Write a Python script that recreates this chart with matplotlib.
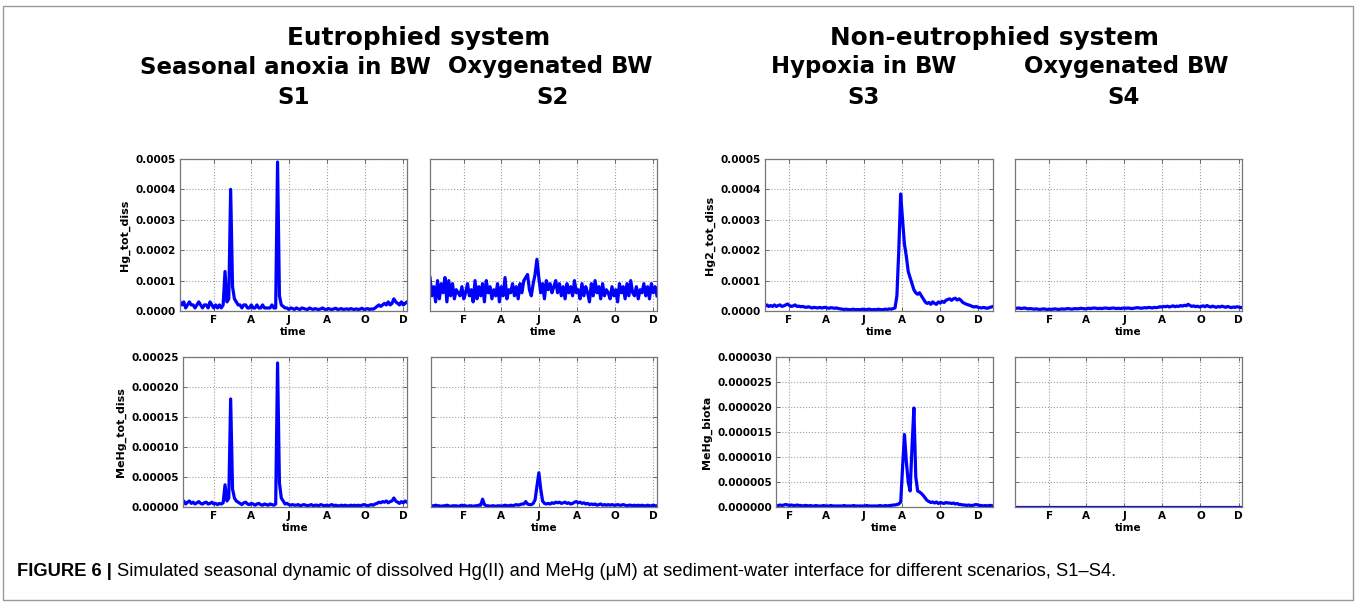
import numpy as np
import matplotlib
matplotlib.use("Agg")
import matplotlib.pyplot as plt
from matplotlib.ticker import FixedLocator, FormatStrFormatter
from matplotlib.patches import Rectangle

# ---------------- data ----------------
month_labels = ["F", "A", "J", "A", "O", "D"]
month_days = [55, 114, 175, 236, 297, 358]   # 1st of Feb, Apr, Jun, Aug, Oct, Dec

# S1 (eutrophied, seasonal anoxia) values in 1e-5 uM
s1_hg = [3,2,3,1,2,3,2,2,1,2,3,2,1,2,2,1,3,2,1,2,1,2,1,2,
         13,3,4,40,8,4,3,2,
         2,1,2,2,1,1,2,1,1,2,1,1,2,1,1,1,1,2,1,1,
         49,5,2,1.5,
         1,1,0.5,1,0.8,0.5,1,0.7,0.5,1,0.8,0.6,0.5,1,0.7,0.5,0.8,0.6,0.5,0.7,1,0.6,0.5,0.8,
         0.6,0.5,0.7,0.9,0.5,0.6,0.8,0.5,0.6,0.7,0.5,0.8,0.6,0.5,0.7,0.5,0.6,0.9,0.5,0.6,0.8,0.5,0.7,0.6,
         1,1.5,2,1.5,2,2.5,2,3,2,2.5,4,3,2.5,2,3,2,2.5,3]
s1_mehg = [1,0.8,1,0.5,0.8,1,0.6,0.8,0.5,0.7,0.9,0.6,0.5,0.7,0.8,0.5,0.6,0.8,0.5,0.6,0.4,0.6,0.5,0.7,
           3.7,1,1.5,18,3,1.5,1,0.8,
           0.6,0.4,0.7,0.8,0.5,0.4,0.6,0.5,0.3,0.5,0.6,0.4,0.3,0.5,0.4,0.3,0.5,0.4,0.3,0.5,
           24,4,1.5,1,
           0.5,0.6,0.4,0.3,0.4,0.3,0.3,0.4,0.2,0.3,0.4,0.3,0.2,0.3,0.4,0.2,0.3,0.3,0.2,0.4,0.3,0.2,0.3,0.2,
           0.3,0.4,0.2,0.3,0.2,0.2,0.3,0.2,0.3,0.2,0.2,0.3,0.2,0.3,0.2,0.3,0.2,0.3,0.4,0.3,0.2,0.3,0.4,0.3,
           0.5,0.6,0.8,0.7,0.9,0.8,1,0.7,0.9,1,1.5,1,0.8,0.6,0.9,0.7,1,0.8]

# S2 (eutrophied, oxygenated) values in 1e-5 uM
s2_hg = [11,5,8,3,10,4,9,6,11,3,10,5,9,4,7,6,5,8,4,6,9,5,7,3,10,4,8,5,9,3,10,6,8,4,7,5,9,3,8,5,11,4,7,6,9,5,8,4,
         9,6,10,11,12,7,5,9,12,17,11,6,9,
         4,10,7,9,6,8,10,6,9,5,8,4,9,6,8,5,10,6,7,4,9,5,8,6,3,9,5,10,6,8,4,9,5,7,6,4,8,5,7,3,
         9,6,8,4,9,5,10,6,5,8,4,7,6,9,5,8,4,9,6,8,5]
s2_mehg = [0.3,0.2,0.2,0.3,0.2,0.2,0.1,0.2,0.2,0.3,0.2,0.1,0.2,0.2,0.2,0.1,0.2,0.3,0.2,0.2,0.1,0.2,0.2,0.1,0.2,0.2,0.3,0.3,
           1.3,0.4,
           0.2,0.2,0.1,0.2,0.2,0.1,0.2,0.2,0.1,0.2,0.3,0.2,0.2,0.3,0.2,0.3,0.4,0.3,0.4,0.5,0.5,
           0.9,0.5,0.4,0.4,0.6,1.2,3.5,5.7,3,1,0.6,
           0.5,0.6,0.5,0.7,0.6,0.8,0.7,0.8,0.6,0.7,0.8,0.6,0.7,0.5,0.6,0.8,0.9,0.7,0.8,0.6,
           0.7,0.5,0.6,0.4,0.5,0.4,0.5,0.3,0.4,0.5,0.3,0.4,0.3,0.4,0.3,0.4,0.3,0.3,0.4,0.3,
           0.3,0.4,0.3,0.2,0.3,0.3,0.2,0.3,0.2,0.3,0.2,0.3,0.2,0.2,0.3,0.2,0.2,0.3,0.2,0.2]

# S3 (non-eutrophied, hypoxia): Hg2 in 1e-5 uM, MeHg_biota in 1e-6 uM
s3_hg = [1.5,2,1.5,1.8,1.5,2,1.5,1.8,2,1.5,1.7,2,2.3,1.8,1.5,1.7,2,1.5,1.6,1.4,1.5,
         1.3,1.2,1.4,1.2,1,1.2,1.1,1,1.2,1,1.1,1.2,1,0.9,1.1,1,0.9,1,0.8,0.7,
         0.6,0.5,0.6,0.5,0.4,0.5,0.6,0.4,0.5,0.4,0.5,0.6,0.4,0.5,0.6,0.5,0.4,0.5,0.4,0.6,
         0.5,0.4,0.5,0.6,0.5,0.7,0.6,0.8,1,
         5,20,38.5,30,22,18,13,11,9,7,6,5.5,6,5,4,3,2.5,
         2.8,2.2,3,2.5,2.2,3,2.6,3.2,2.8,3.5,3.8,4,3.5,4,4.2,3.6,4,3.5,2.8,2.5,
         2.2,2,1.8,1.5,1.3,1.5,1.2,1.1,1,1.2,1,0.9,1.1,1.3,1.5]
s3_mehg = [0.4,0.4,0.3,0.4,0.5,0.4,0.3,0.3,0.4,0.3,
           0.4,0.5,0.4,0.3,0.4,0.3,0.3,0.4,0.3,0.3,
           0.2,0.3,0.3,0.2,0.3,0.2,0.2,0.3,0.2,0.2,
           0.2,0.3,0.2,0.2,0.2,0.3,0.2,0.2,0.2,0.2,
           0.2,0.2,0.3,0.2,0.2,0.2,0.2,0.3,0.2,0.2,
           0.2,0.2,0.2,0.2,0.3,0.2,0.2,0.2,0.2,0.2,
           0.2,0.3,0.2,0.2,0.3,0.2,0.3,0.3,0.4,0.4,
           0.5,0.6,
           1,8,14.5,9,5,3.2,12,19.8,6,3.2,3,2.7,2.3,1.8,1.3,1.1,
           0.9,1,0.8,1,0.7,0.9,0.8,0.7,0.9,0.8,0.8,0.7,0.8,0.6,0.7,0.5,0.5,0.4,0.4,0.3,
           0.4,0.3,0.3,0.4,0.5,0.4,0.3,0.3,0.2,0.3,0.2,0.3,0.3,0.2]

# S4 (non-eutrophied, oxygenated) values in 1e-5 uM
s4_hg = [1,0.9,1,0.8,0.9,1,0.8,0.7,0.8,0.7,0.6,0.7,0.6,0.5,0.6,0.7,0.6,0.5,0.6,0.5,
         0.6,0.7,0.6,0.5,0.6,0.7,0.6,0.7,0.8,0.7,0.6,
         0.7,0.8,0.7,0.8,0.9,0.8,0.7,0.8,0.9,0.8,0.9,1,0.9,0.8,0.9,0.8,0.9,1,0.9,0.8,
         0.9,1,0.9,0.8,0.9,0.8,0.9,1,0.9,1,0.9,0.8,0.9,1,1.1,1,0.9,1,1.1,1,1.2,1.1,1,1.2,1.1,
         1.2,1.4,1.3,1.5,1.4,1.6,1.3,1.5,1.7,1.4,1.6,1.5,1.8,1.6,1.9,1.7,2.2,1.8,1.5,1.7,
         1.4,1.6,1.3,1.5,1.7,1.4,1.8,1.5,1.3,1.6,1.4,1.2,1.5,1.3,1.6,1.4,1.2,1.5,1.3,1.1,
         1.3,1.2,1.4,1.3,1.1,1.2]
s4_mehg = [0.0] * 122

# time grids (days since 8 Dec of previous year)
t_a = np.linspace(0.5, 364.4, len(s1_hg))
t_b = np.linspace(16.5, 382.0, len(s3_hg))

titles_top = [("Eutrophied system", 419), ("Non-eutrophied system", 994)]
titles_mid = [("Seasonal anoxia in BW", 285), ("Oxygenated BW", 550),
              ("Hypoxia in BW", 864), ("Oxygenated BW", 1126)]
titles_s = [("S1", 294), ("S2", 553), ("S3", 864), ("S4", 1124)]

# ---------------- figure ----------------
W, H = 1357, 606
fig = plt.figure(figsize=(W / 100, H / 100), dpi=100)
fig.patch.set_facecolor("white")

def add_ax(l, r, t, b):
    return fig.add_axes([l / W, 1 - b / H, (r - l) / W, (b - t) / H])

panels = [
    (180, 407, 159, 311, t_a, s1_hg, 1e-5, 0.0005, 0.0001, "%.4f", "Hg_tot_diss", True, (0.5, 364.4)),
    (183, 407, 357, 507, t_a, s1_mehg, 1e-5, 0.00025, 0.00005, "%.5f", "MeHg_tot_diss", True, (5.3, 364.4)),
    (430, 657, 159, 311, t_a, s2_hg, 1e-5, 0.0005, 0.0001, "%.4f", "", False, (0.5, 364.4)),
    (431, 657, 357, 507, t_a, s2_mehg, 1e-5, 0.00025, 0.00005, "%.5f", "", False, (2.0, 364.4)),
    (765, 993, 159, 311, t_b, s3_hg, 1e-5, 0.0005, 0.0001, "%.4f", "Hg2_tot_diss", True, (16.5, 382.0)),
    (776, 993, 357, 507, t_b, s3_mehg, 1e-6, 0.00003, 0.000005, "%.6f", "MeHg_biota", True, (34.0, 382.0)),
    (1015, 1242, 159, 311, t_a, s4_hg, 1e-5, 0.0005, 0.0001, "%.4f", "", False, (0.0, 363.5)),
    (1015, 1242, 357, 507, t_a, s4_mehg, 1e-5, 0.00003, 0.000005, "%.6f", "", False, (0.0, 363.5)),
]

for (l, r, t, b, tt, vals, sc, ymax, step, fmt, ylab, showy, xl) in panels:
    ax = add_ax(l, r, t, b)
    ax.plot(tt, np.array(vals) * sc, color="#0000ff", lw=2.3, solid_joinstyle="round")
    ax.set_xlim(*xl)
    ax.set_ylim(0, ymax)
    ax.xaxis.set_major_locator(FixedLocator(month_days))
    ax.set_xticklabels(month_labels)
    ax.yaxis.set_major_locator(FixedLocator(np.arange(0, ymax + step / 2, step)))
    ax.yaxis.set_major_formatter(FormatStrFormatter(fmt))
    ax.tick_params(direction="in", top=True, right=True, length=3, width=0.6,
                   color="#555555", labelsize=7.5, pad=3)
    for lab in ax.get_xticklabels() + ax.get_yticklabels():
        lab.set_fontweight("bold")
    if not showy:
        ax.tick_params(labelleft=False)
    for sp in ax.spines.values():
        sp.set_color("#777777")
        sp.set_linewidth(0.9)
    ax.grid(True, color="#a0a0a0", linestyle=":", linewidth=0.8)
    ax.set_xlabel("time", fontsize=7.5, fontweight="bold", labelpad=1)
    if ylab:
        ax.set_ylabel(ylab, fontsize=8, fontweight="bold", labelpad=4)

for txt, x in titles_top:
    fig.text(x / W, 1 - 38 / H, txt, ha="center", va="center", fontsize=17.8, fontweight="bold")
for txt, x in titles_mid:
    fig.text(x / W, 1 - 67 / H, txt, ha="center", va="center", fontsize=16.5, fontweight="bold")
for txt, x in titles_s:
    fig.text(x / W, 1 - 98 / H, txt, ha="center", va="center", fontsize=16.5, fontweight="bold")

# caption
cap_y = 1 - 571 / H
t1 = fig.text(17 / W, cap_y, "FIGURE 6 | ", ha="left", va="center", fontsize=13.2,
              fontweight="bold", family=["Liberation Sans", "DejaVu Sans"])
fig.canvas.draw()
bb = t1.get_window_extent()
fig.text(bb.x1 / W, cap_y,
         "Simulated seasonal dynamic of dissolved Hg(II) and MeHg (\u03bcM) at sediment-water interface for different scenarios, S1\u2013S4.",
         ha="left", va="center", fontsize=13.2, family=["Liberation Sans", "DejaVu Sans"])

# outer frame
fig.patches.append(Rectangle((3 / W, 6 / H), 1 - 7 / W, 1 - 12 / H, transform=fig.transFigure,
                             fill=False, edgecolor="#999999", lw=1.0))

fig.savefig("out.png", dpi=100, facecolor="white")
